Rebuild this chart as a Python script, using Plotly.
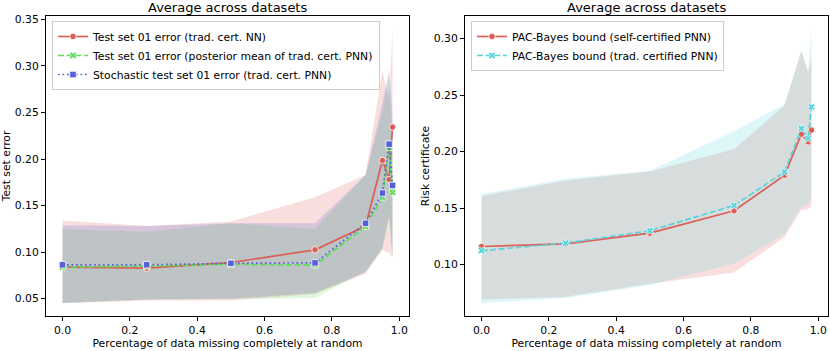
import plotly.graph_objects as go

# ---------------- data ----------------
x_missing = [0.0, 0.25, 0.5, 0.75, 0.9, 0.95, 0.97, 0.98]

# left panel: test-set errors
nn_err_mean = [0.0840, 0.0828, 0.0888, 0.1025, 0.1280, 0.1985, 0.1780, 0.2344]
nn_err_upper = [0.1340, 0.1280, 0.1330, 0.1590, 0.1830, 0.2950, 0.2640, 0.3390]
nn_err_lower = [0.0455, 0.0480, 0.0480, 0.0550, 0.0770, 0.1025, 0.0990, 0.0940]

post_err_mean = [0.0839, 0.0850, 0.0870, 0.0860, 0.1275, 0.1587, 0.2125, 0.1642]
post_err_upper = [0.1250, 0.1220, 0.1310, 0.1250, 0.1830, 0.2500, 0.2900, 0.2200]
post_err_lower = [0.0450, 0.0490, 0.0500, 0.0505, 0.0800, 0.1030, 0.1350, 0.0930]

stoch_err_mean = [0.0864, 0.0864, 0.0880, 0.0885, 0.1310, 0.1635, 0.2160, 0.1717]
stoch_err_upper = [0.1290, 0.1280, 0.1310, 0.1310, 0.1830, 0.2600, 0.2960, 0.2500]
stoch_err_lower = [0.0455, 0.0490, 0.0500, 0.0560, 0.0780, 0.1050, 0.1400, 0.0950]

# right panel: risk certificates
self_cert_mean = [0.1160, 0.1184, 0.1278, 0.1476, 0.1790, 0.2154, 0.2086, 0.2190]
self_cert_upper = [0.1606, 0.1745, 0.1824, 0.2021, 0.2410, 0.2890, 0.2706, 0.2820]
self_cert_lower = [0.0690, 0.0716, 0.0830, 0.0930, 0.1243, 0.1485, 0.1490, 0.1520]

trad_cert_mean = [0.1124, 0.1190, 0.1300, 0.1523, 0.1820, 0.2205, 0.2116, 0.2396]
trad_cert_upper = [0.1624, 0.1760, 0.1830, 0.2180, 0.2420, 0.2890, 0.2706, 0.3090]
trad_cert_lower = [0.0660, 0.0705, 0.0820, 0.1010, 0.1270, 0.1514, 0.1530, 0.1600]

left_names = [
    "Test set 01 error (trad. cert. NN)",
    "Test set 01 error (posterior mean of trad. cert. PNN)",
    "Stochastic test set 01 error (trad. cert. PNN)",
]
right_names = [
    "PAC-Bayes bound (self-certified PNN)",
    "PAC-Bayes bound (trad. certified PNN)",
]
panel_title = "Average across datasets"
x_title = "Percentage of data missing completely at random"
left_y_title = "Test set error"
right_y_title = "Risk certificate"

x_ticks = [0.0, 0.2, 0.4, 0.6, 0.8, 1.0]
left_y_ticks = [0.05, 0.10, 0.15, 0.20, 0.25, 0.30, 0.35]
right_y_ticks = [0.10, 0.15, 0.20, 0.25, 0.30]

# ---------------- style ----------------
RED = (219, 95, 87)
GREEN = (95, 219, 87)
BLUE = (87, 95, 219)
CYAN = (87, 211, 219)
FONT = "DejaVu Sans"
FS = 10.8
W, H = 830, 351
LW = 1.7
MS = 6.5
DASHED = "6px,2.6px"
DOTTED = "1.7px,2.8px"


def rgb(c, a=None):
    if a is None:
        return "rgb(%d,%d,%d)" % c
    return "rgba(%d,%d,%d,%.2f)" % (c[0], c[1], c[2], a)


fig = go.Figure()


def band(upper, lower, color, xa, ya):
    fig.add_trace(go.Scatter(
        x=x_missing + x_missing[::-1], y=upper + lower[::-1],
        fill="toself", fillcolor=rgb(color, 0.2), line=dict(width=0),
        mode="lines", hoverinfo="skip", showlegend=False, xaxis=xa, yaxis=ya))


def line(mean, color, name, dash, symbol, xa, ya, legend):
    fig.add_trace(go.Scatter(
        x=x_missing, y=mean, mode="lines+markers", name=name,
        line=dict(color=rgb(color), width=LW, dash=dash),
        marker=dict(symbol=symbol, size=MS, color=rgb(color),
                    line=dict(color="white", width=0.8)),
        xaxis=xa, yaxis=ya, legend=legend))


# left panel
band(nn_err_upper, nn_err_lower, RED, "x", "y")
band(post_err_upper, post_err_lower, GREEN, "x", "y")
band(stoch_err_upper, stoch_err_lower, BLUE, "x", "y")
line(nn_err_mean, RED, left_names[0], "solid", "circle", "x", "y", "legend")
line(post_err_mean, GREEN, left_names[1], DASHED, "x", "x", "y", "legend")
line(stoch_err_mean, BLUE, left_names[2], DOTTED, "square", "x", "y", "legend")

# right panel
band(self_cert_upper, self_cert_lower, RED, "x2", "y2")
band(trad_cert_upper, trad_cert_lower, CYAN, "x2", "y2")
line(self_cert_mean, RED, right_names[0], "solid", "circle", "x2", "y2", "legend2")
line(trad_cert_mean, CYAN, right_names[1], DASHED, "x", "x2", "y2", "legend2")

ydom = [1 - 316 / H, 1 - 16 / H]
axis_common = dict(
    showline=True, mirror=True, linecolor="black", linewidth=1,
    ticks="outside", ticklen=4, tickwidth=1, tickcolor="black",
    showgrid=False, zeroline=False, automargin=False,
    tickfont=dict(family=FONT, size=FS, color="black"),
)
legend_common = dict(
    xanchor="left", yanchor="top",
    bgcolor="rgba(255,255,255,0.8)", bordercolor="#cccccc",
    borderwidth=1, font=dict(family=FONT, size=FS, color="black"),
    itemwidth=30, tracegroupgap=0,
)

fig.update_layout(
    width=W, height=H,
    margin=dict(l=0, r=0, t=0, b=0),
    paper_bgcolor="white", plot_bgcolor="white",
    font=dict(family=FONT, size=FS, color="black"),
    xaxis=dict(domain=[46 / W, 409 / W], range=[-0.049, 1.029],
               tickvals=x_ticks, tickformat=".1f", anchor="y",
               title=dict(text=x_title, standoff=3,
                          font=dict(family=FONT, size=FS)),
               **axis_common),
    yaxis=dict(domain=ydom, range=[0.0314, 0.3537], anchor="x",
               tickvals=left_y_ticks, tickformat=".2f",
               title=dict(text=left_y_title, standoff=2,
                          font=dict(family=FONT, size=FS)),
               **axis_common),
    xaxis2=dict(domain=[465 / W, 828 / W], range=[-0.049, 1.029],
                tickvals=x_ticks, tickformat=".1f", anchor="y2",
                title=dict(text=x_title, standoff=3,
                           font=dict(family=FONT, size=FS)),
                **axis_common),
    yaxis2=dict(domain=ydom, range=[0.0545, 0.3200], anchor="x2",
                tickvals=right_y_ticks, tickformat=".2f",
                title=dict(text=right_y_title, standoff=2,
                           font=dict(family=FONT, size=FS)),
                **axis_common),
    legend=dict(x=52 / W, y=1 - 21 / H, **legend_common),
    legend2=dict(x=471 / W, y=1 - 21 / H, **legend_common),
    annotations=[
        dict(text=panel_title, x=(46 + 409) / 2 / W, y=1 - 7 / H,
             xref="paper", yref="paper", showarrow=False,
             font=dict(family=FONT, size=13), xanchor="center", yanchor="middle"),
        dict(text=panel_title, x=(465 + 828) / 2 / W, y=1 - 7 / H,
             xref="paper", yref="paper", showarrow=False,
             font=dict(family=FONT, size=13), xanchor="center", yanchor="middle"),
    ],
)

fig.write_html(
    "out.html",
    config={"displayModeBar": False},
    post_script="document.body.style.margin='0';document.body.style.padding='0';"
                "document.documentElement.style.overflow='hidden';",
)
